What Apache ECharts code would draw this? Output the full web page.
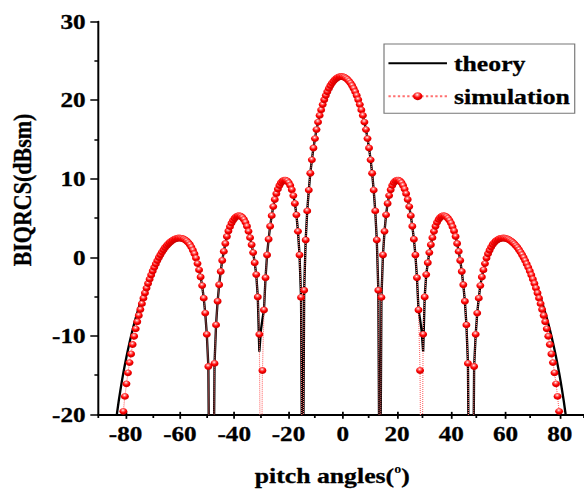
<!DOCTYPE html>
<html><head><meta charset="utf-8">
<script src="https://cdn.jsdelivr.net/npm/echarts@6/dist/echarts.min.js"></script>
<style>
html,body{margin:0;padding:0;width:584px;height:492px;overflow:hidden;background:#fff;}
#wrap{width:584px;height:492px;overflow:hidden;position:relative;}
#chart{width:499px;height:492px;transform:scaleX(1.1703);transform-origin:0 0;}
</style></head><body><div id="wrap"><div id="chart"></div></div>
<script>
// sample angles (degrees)
const angles = [
-83.65,-83.08,-82.51,-81.93,-81.36,-80.79,-80.21,
-79.64,-79.07,-78.50,-77.92,-77.35,-76.78,-76.20,-75.63,-75.06,-74.48,
-73.91,-73.34,-72.77,-72.19,-71.62,-71.05,-70.47,-69.90,-69.33,-68.75,
-68.18,-67.61,-67.04,-66.46,-65.89,-65.32,-64.74,-64.17,-63.60,-63.03,
-62.45,-61.88,-61.31,-60.73,-60.16,-59.59,-59.01,-58.44,-57.87,-57.30,
-56.72,-56.15,-55.58,-55.00,-54.43,-53.86,-53.29,-52.71,-52.14,-51.57,
-50.99,-50.42,-49.85,-49.27,-48.70,-48.13,-47.56,-46.98,-46.41,-45.84,
-45.26,-44.69,-44.12,-43.54,-42.97,-42.40,-41.83,-41.25,-40.68,-40.11,
-39.53,-38.96,-38.39,-37.82,-37.24,-36.67,-36.10,-35.52,-34.95,-34.38,
-33.80,-33.23,-32.66,-32.09,-31.51,-30.94,-30.37,-29.79,-29.22,-28.65,
-28.07,-27.50,-26.93,-26.36,-25.78,-25.21,-24.64,-24.06,-23.49,-22.92,
-22.35,-21.77,-21.20,-20.63,-20.05,-19.48,-18.91,-18.33,-17.76,-17.19,
-16.62,-16.04,-15.47,-14.90,-14.32,-13.75,-13.18,-12.61,-12.03,-11.46,
-10.89,-10.31,-9.74,-9.17,-8.59,-8.02,-7.45,-6.88,-6.30,-5.73,
-5.16,-4.58,-4.01,-3.44,-2.86,-2.29,-1.72,-1.15,-0.57,
0,0.57,1.15,1.72,2.29,2.86,3.44,4.01,4.58,5.16,
5.73,6.30,6.88,7.45,8.02,8.59,9.17,9.74,10.31,10.89,
11.46,12.03,12.61,13.18,13.75,14.32,14.90,15.47,16.04,16.62,
17.19,17.76,18.33,18.91,19.48,20.05,20.63,21.20,21.77,22.35,
22.92,23.49,24.06,24.64,25.21,25.78,26.36,26.93,27.50,28.07,
28.65,29.22,29.79,30.37,30.94,31.51,32.09,32.66,33.23,33.80,
34.38,34.95,35.52,36.10,36.67,37.24,37.82,38.39,38.96,39.53,
40.11,40.68,41.25,41.83,42.40,42.97,43.54,44.12,44.69,45.26,
45.84,46.41,46.98,47.56,48.13,48.70,49.27,49.85,50.42,50.99,
51.57,52.14,52.71,53.29,53.86,54.43,55.00,55.58,56.15,56.72,
57.30,57.87,58.44,59.01,59.59,60.16,60.73,61.31,61.88,62.45,
63.03,63.60,64.17,64.74,65.32,65.89,66.46,67.04,67.61,68.18,
68.75,69.33,69.90,70.47,71.05,71.62,72.19,72.77,73.34,73.91,
74.48,75.06,75.63,76.20,76.78,77.35,77.92,78.50,79.07,79.64,
80.21,80.79,81.36,81.93,82.51,83.08,83.65
];

// theory (dBsm)
const theory = [
-21.21,-19.69,-18.3,-17.02,-15.83,-14.71,-13.66,
-12.68,-11.74,-10.85,-10.01,-9.21,-8.45,-7.73,-7.04,-6.38,-5.75,
-5.15,-4.57,-4.02,-3.5,-2.99,-2.52,-2.08,-1.65,-1.25,-0.84,
-0.42,-0.03,0.33,0.66,0.96,1.24,1.48,1.7,1.89,2.05,
2.19,2.3,2.38,2.43,2.45,2.44,2.4,2.33,2.22,2.07,
1.87,1.62,1.3,0.9,0.45,-0.1,-0.8,-1.6,-2.5,-3.6,
-5.2,-7.1,-9.8,-13.9,-40,-45,-40,-13.5,-8.6,-5.6,
-3.5,-1.8,-0.4,0.75,1.75,2.65,3.35,3.9,4.35,4.7,
4.97,5.17,5.27,5.3,5.22,5.07,4.82,4.45,3.95,3.3,
2.5,1.6,0.6,-0.7,-2.2,-5.05,-12.0,-9.3,-7.9,-6.7,
-2.6,0.3,2.3,3.95,5.3,6.45,7.35,8.1,8.68,9.13,
9.48,9.7,9.82,9.82,9.72,9.5,9.15,8.6,7.85,6.85,
5.4,3.3,0.3,-5.1,-40,-4.2,2.2,5.9,8.55,10.7,
12.4,13.9,15.1,16.25,17.2,18.05,18.75,19.43,20.05,20.59,
21.07,21.49,21.85,22.16,22.42,22.63,22.79,22.91,22.98,
23.0,22.98,22.91,22.79,22.63,22.42,22.16,21.85,21.49,21.07,
20.59,20.05,19.43,18.75,18.05,17.2,16.25,15.1,13.9,12.4,
10.7,8.55,5.9,2.2,-4.2,-40,-5.1,0.3,3.3,5.4,
6.85,7.85,8.6,9.15,9.5,9.72,9.82,9.82,9.7,9.48,
9.13,8.68,8.1,7.35,6.45,5.3,3.95,2.3,0.3,-2.6,
-6.7,-7.9,-9.3,-12.0,-5.05,-2.2,-0.7,0.6,1.6,2.5,
3.3,3.95,4.45,4.82,5.07,5.22,5.3,5.27,5.17,4.97,
4.7,4.35,3.9,3.35,2.65,1.75,0.75,-0.4,-1.8,-3.5,
-5.6,-8.6,-13.5,-40,-45,-40,-13.9,-9.8,-7.1,-5.2,
-3.6,-2.5,-1.6,-0.8,-0.1,0.45,0.9,1.3,1.62,1.87,
2.07,2.22,2.33,2.4,2.44,2.45,2.43,2.38,2.3,2.19,
2.05,1.89,1.7,1.48,1.24,0.96,0.66,0.33,-0.03,-0.42,
-0.84,-1.25,-1.65,-2.08,-2.52,-2.99,-3.5,-4.02,-4.57,-5.15,
-5.75,-6.38,-7.04,-7.73,-8.45,-9.21,-10.01,-10.85,-11.74,-12.68,
-13.66,-14.71,-15.83,-17.02,-18.3,-19.69,-21.21
];

// simulation (dBsm), null = no sample
const simulation = [
null,null,null,null,null,-19.6,-17.7,
-16.1,-14.7,-13.4,-12.3,-11.1,-10.05,-9.1,-8.2,-7.4,-6.65,
-5.9,-5.2,-4.55,-3.92,-3.33,-2.78,-2.25,-1.75,-1.28,-0.84,
-0.42,-0.03,0.33,0.66,0.96,1.24,1.48,1.7,1.89,2.05,
2.19,2.3,2.38,2.43,2.45,2.44,2.4,2.33,2.22,2.07,
1.87,1.62,1.3,0.9,0.45,-0.1,-0.8,-1.6,-2.5,-3.6,
-5.2,-7.1,-9.8,-13.9,-36,-42,-36,-13.5,-8.6,-5.6,
-3.5,-1.8,-0.4,0.75,1.75,2.65,3.35,3.9,4.35,4.7,
4.97,5.17,5.27,5.3,5.22,5.07,4.82,4.45,3.95,3.3,
2.5,1.6,0.6,-0.7,-2.2,-5.05,-9.8,-38,-14.4,-6.7,
-2.6,0.3,2.3,3.95,5.3,6.45,7.35,8.1,8.68,9.13,
9.48,9.7,9.82,9.82,9.72,9.5,9.15,8.6,7.85,6.85,
5.4,3.3,0.3,-5.1,-38,-4.2,2.2,5.9,8.55,10.7,
12.4,13.9,15.1,16.25,17.2,18.05,18.75,19.43,20.05,20.59,
21.07,21.49,21.85,22.16,22.42,22.63,22.79,22.91,22.98,
23.0,22.98,22.91,22.79,22.63,22.42,22.16,21.85,21.49,21.07,
20.59,20.05,19.43,18.75,18.05,17.2,16.25,15.1,13.9,12.4,
10.7,8.55,5.9,2.2,-4.2,-38,-5.1,0.3,3.3,5.4,
6.85,7.85,8.6,9.15,9.5,9.72,9.82,9.82,9.7,9.48,
9.13,8.68,8.1,7.35,6.45,5.3,3.95,2.3,0.3,-2.6,
-6.7,-14.4,-38,-9.8,-5.05,-2.2,-0.7,0.6,1.6,2.5,
3.3,3.95,4.45,4.82,5.07,5.22,5.3,5.27,5.17,4.97,
4.7,4.35,3.9,3.35,2.65,1.75,0.75,-0.4,-1.8,-3.5,
-5.6,-8.6,-13.5,-36,-42,-36,-13.9,-9.8,-7.1,-5.2,
-3.6,-2.5,-1.6,-0.8,-0.1,0.45,0.9,1.3,1.62,1.87,
2.07,2.22,2.33,2.4,2.44,2.45,2.43,2.38,2.3,2.19,
2.05,1.89,1.7,1.48,1.24,0.96,0.66,0.33,-0.03,-0.42,
-0.84,-1.28,-1.75,-2.25,-2.78,-3.33,-3.92,-4.55,-5.2,-5.9,
-6.65,-7.4,-8.2,-9.1,-10.05,-11.1,-12.3,-13.4,-14.7,-16.1,
-17.7,-19.6,null,null,null,null,null
];

const xTickLabels = ['-80','-60','-40','-20','0','20','40','60','80'];
const yTickLabels = ['-20','-10','0','10','20','30'];
const seriesNames = ['theory','simulation'];

const FONT = 'Liberation Serif';
const S = 1.1703;               // horizontal stretch of the original figure
const gridLeft = 98.5 / S;
const gridWidth = 488.5 / S;
const degPx = gridWidth / 180;

const theoryData = angles.map((a, i) => [a, theory[i] === null ? '-' : theory[i]]);
const simData = angles.map((a, i) => [a, simulation[i] === null ? '-' : simulation[i]]);

const labelStyle = {fontFamily: FONT, fontWeight: 'bold', fontSize: 21.5, color: '#000', textBorderColor: '#000', textBorderWidth: 0.3};

const chart = echarts.init(document.getElementById('chart'), null, {renderer: 'svg'});
chart.setOption({
  animation: false,
  backgroundColor: '#fff',
  grid: [
    {left: gridLeft, top: 21.5, width: gridWidth, height: 393},
    {left: gridLeft + 10 * degPx, top: 21.5, width: 160 * degPx, height: 393}
  ],
  xAxis: [
    {
      type: 'value', gridIndex: 0, min: -90, max: 90, interval: 20,
      axisLine: {show: true, onZero: false, lineStyle: {color: '#000', width: 2}},
      axisTick: {show: true, inside: false, length: 3.5, lineStyle: {color: '#000', width: 1.5}},
      axisLabel: {show: false},
      splitLine: {show: false}
    },
    {
      type: 'value', gridIndex: 1, min: -80, max: 80, interval: 20,
      axisLine: {show: false, onZero: false},
      axisTick: {show: true, inside: false, length: 7, lineStyle: {color: '#000', width: 1.5}},
      axisLabel: Object.assign({margin: 11, formatter: v => xTickLabels[Math.round((v + 80) / 20)]}, labelStyle),
      splitLine: {show: false},
      name: '{a|pitch angles(}{s|o}{a|)}',
      nameLocation: 'middle',
      nameGap: 51,
      nameTextStyle: {
        padding: [0, 18, 0, 0],
        rich: {
          a: {fontFamily: FONT, fontWeight: 'bold', fontSize: 22, color: '#000', lineHeight: 26, textBorderColor: '#000', textBorderWidth: 0.3},
          s: {fontFamily: FONT, fontWeight: 'bold', fontSize: 12, color: '#000', verticalAlign: 'top', lineHeight: 14}
        }
      }
    }
  ],
  yAxis: [
    {
      type: 'value', gridIndex: 0, min: -20, max: 30, interval: 10,
      axisLine: {show: true, onZero: false, lineStyle: {color: '#000', width: 1.7}},
      axisTick: {show: true, inside: false, length: 7, lineStyle: {color: '#000', width: 1.5}},
      minorTick: {show: true, splitNumber: 2, length: 3.5, lineStyle: {color: '#000', width: 1.5}},
      axisLabel: Object.assign({margin: 11, formatter: v => yTickLabels[Math.round((v + 20) / 10)]}, labelStyle),
      splitLine: {show: false},
      name: 'BIQRCS(dBsm)',
      nameLocation: 'middle',
      nameRotate: 90,
      nameGap: 54,
      nameTextStyle: {fontFamily: FONT, fontWeight: 'bold', fontSize: 22, color: '#000', padding: [0, 0, 0, 56], textBorderColor: '#000', textBorderWidth: 0.3}
    },
    {type: 'value', gridIndex: 1, min: -20, max: 30, show: false}
  ],
  legend: {
    data: [{name: seriesNames[0], itemStyle: {opacity: 0}}, {name: seriesNames[1]}],
    orient: 'vertical',
    left: 384 / S,
    top: 44,
    padding: [8, 4, 6, 2.8],
    itemGap: 10.7,
    itemWidth: 50,
    itemHeight: 10,
    borderColor: '#777',
    borderWidth: 1,
    backgroundColor: '#fff',
    selectedMode: false,
    textStyle: {fontFamily: FONT, fontWeight: 'bold', fontSize: 22, color: '#000', lineHeight: 22, padding: [0, 0, 0, 1], textBorderColor: '#000', textBorderWidth: 0.3}
  },
  series: [
    {
      name: seriesNames[0], type: 'line', xAxisIndex: 0, yAxisIndex: 0,
      data: theoryData, symbol: 'none', connectNulls: false, clip: true, z: 2,
      lineStyle: {color: '#000', width: 2}, itemStyle: {color: '#000'}
    },
    {
      name: seriesNames[1], type: 'line', xAxisIndex: 0, yAxisIndex: 0,
      data: simData, symbol: 'circle', symbolSize: 6.8, showSymbol: true, showAllSymbol: true,
      connectNulls: false, clip: true, z: 3,
      lineStyle: {color: '#ff7070', width: 1, type: 'dotted'},
      itemStyle: {
        color: {
          type: 'radial', x: 0.45, y: 0.32, r: 0.7,
          colorStops: [
            {offset: 0, color: '#ffffff'},
            {offset: 0.22, color: '#ff7a7a'},
            {offset: 0.55, color: '#ff0000'},
            {offset: 1, color: '#c00000'}
          ]
        }
      }
    }
  ]
});
</script></body></html>
